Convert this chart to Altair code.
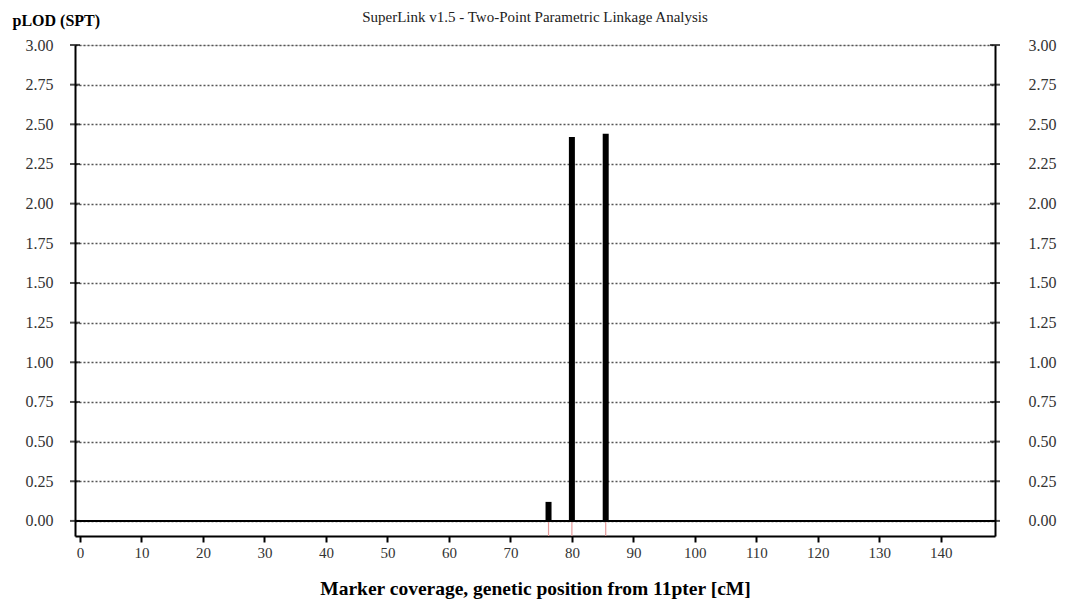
import altair as alt
import pandas as pd

positions = [76.2, 80.0, 85.5]
plod = [0.12, 2.42, 2.44]
y_ticks = [0, 0.25, 0.5, 0.75, 1.0, 1.25, 1.5, 1.75, 2.0, 2.25, 2.5, 2.75, 3.0]
x_ticks = list(range(0, 150, 10))
Y_MIN = -0.095
X_MAX = 148
W, H = 920, 491

df = pd.DataFrame({"pos": positions, "lod": plod, "low": [Y_MIN] * len(positions)})
zero = pd.DataFrame({"y": [0.0]})
ticks_df = pd.DataFrame({"y": y_ticks})

FONT = "Liberation Serif"
xscale = alt.Scale(domain=[0, X_MAX], nice=False, zero=False)
yscale = alt.Scale(domain=[Y_MIN, 3.0], nice=False, zero=False)

left_axis = alt.Axis(
    values=y_ticks, format=".2f", grid=True, gridDash=[2, 2], gridColor="#555",
    gridWidth=1.4, ticks=False, domainColor="black",
    domainWidth=2, labelFont=FONT, labelFontSize=16, labelColor="#333",
    labelPadding=22, title="pLOD (SPT)", titleAngle=0, titleAlign="left",
    titleBaseline="bottom", titleX=-63, titleY=-17, titleFont=FONT,
    titleFontSize=16, titleFontWeight="bold", titleColor="black",
)
right_axis = alt.Axis(
    orient="right", values=y_ticks, format=".2f", grid=False, ticks=False,
    domainColor="black", domainWidth=2,
    labelFont=FONT, labelFontSize=16, labelColor="#333", labelPadding=33,
    title=None,
)
x_axis = alt.Axis(
    values=x_ticks, grid=False, tickSize=6, tickColor="black", tickWidth=2,
    domainColor="black", domainWidth=2, labelFont=FONT, labelFontSize=15,
    labelColor="#333", labelPadding=3, labelFlush=False,
    title="Marker coverage, genetic position from 11pter [cM]", titleFont=FONT,
    titleFontSize=19.5, titleFontWeight="bold", titleColor="black", titlePadding=19,
)

zero_line = alt.Chart(zero).mark_rule(color="black", strokeWidth=2).encode(
    y=alt.Y("y:Q", scale=yscale, axis=left_axis)
)

left_ticks = alt.Chart(ticks_df).mark_tick(color="black", size=10, thickness=2, orient="horizontal").encode(
    y=alt.Y("y:Q", scale=yscale, axis=None),
    x=alt.value(0),
)
right_ticks = alt.Chart(ticks_df).mark_tick(color="black", size=10, thickness=2, orient="horizontal").encode(
    y=alt.Y("y:Q", scale=yscale, axis=None),
    x=alt.value(W),
)

red_ticks = alt.Chart(df).mark_rule(color="#e49a9a", strokeWidth=1.2).encode(
    x=alt.X("pos:Q", scale=xscale, axis=x_axis),
    y=alt.Y("low:Q", scale=yscale, axis=None),
    y2=alt.datum(0),
)

bars = alt.Chart(df).mark_bar(color="black", size=6).encode(
    x=alt.X("pos:Q", scale=xscale, axis=x_axis),
    y=alt.Y("lod:Q", scale=yscale, axis=None),
    y2=alt.datum(0),
)

right = alt.Chart(zero).mark_rule(color="black", strokeWidth=2).encode(
    y=alt.Y("y:Q", scale=yscale, axis=right_axis)
)

chart = alt.layer(zero_line, red_ticks, bars, left_ticks, right_ticks, right).resolve_axis(
    y="independent"
).properties(
    width=W,
    height=H,
    padding={"left": 75, "top": 45, "right": 70, "bottom": 70},
    autosize=alt.AutoSizeParams(type="none"),
    title=alt.TitleParams(
        "SuperLink v1.5 - Two-Point Parametric Linkage Analysis",
        font=FONT, fontSize=15, fontWeight="normal", color="#222",
        anchor="middle", frame="group", offset=-13,
    ),
).configure_view(stroke="black", strokeWidth=2).configure(background="white")

chart.save("out.html", embed_options={"renderer": "svg", "actions": False})
